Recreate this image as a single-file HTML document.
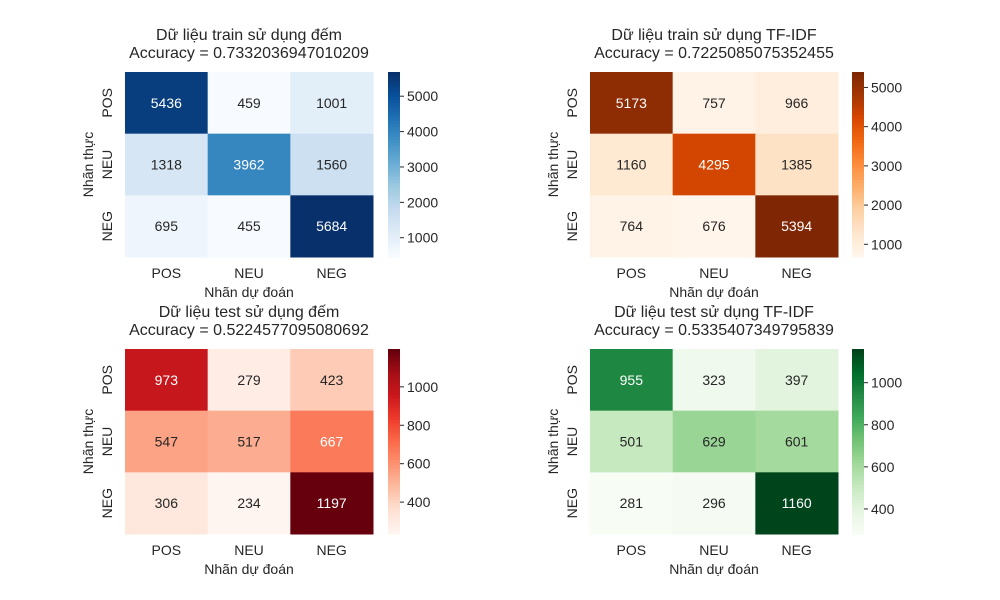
<!DOCTYPE html>
<html><head><meta charset="utf-8">
<style>
body{margin:0;background:#fff;}
svg{display:block;font-family:"Liberation Sans","DejaVu Sans",sans-serif;}
</style></head>
<body>
<svg id="fig" width="1000" height="600" viewBox="0 0 1000 600" xmlns="http://www.w3.org/2000/svg"></svg>
<script>
const categories = ["POS","NEU","NEG"];
const trainCountValues = [[5436,459,1001],[1318,3962,1560],[695,455,5684]];
const trainTfidfValues = [[5173,757,966],[1160,4295,1385],[764,676,5394]];
const testCountValues = [[973,279,423],[547,517,667],[306,234,1197]];
const testTfidfValues = [[955,323,397],[501,629,601],[281,296,1160]];
const trainCountTicks = [1000,2000,3000,4000,5000];
const trainTfidfTicks = [1000,2000,3000,4000,5000];
const testCountTicks = [400,600,800,1000];
const testTfidfTicks = [400,600,800,1000];
const titles = [
 ["Dữ liệu train sử dụng đếm","Accuracy = 0.7332036947010209"],
 ["Dữ liệu train sử dụng TF-IDF","Accuracy = 0.7225085075352455"],
 ["Dữ liệu test sử dụng đếm","Accuracy = 0.5224577095080692"],
 ["Dữ liệu test sử dụng TF-IDF","Accuracy = 0.5335407349795839"]
];

const CMAPS = {
 Blues:["#f7fbff","#deebf7","#c6dbef","#9ecae1","#6baed6","#4292c6","#2171b5","#08519c","#08306b"],
 Oranges:["#fff5eb","#fee6ce","#fdd0a2","#fdae6b","#fd8d3c","#f16913","#d94801","#a63603","#7f2704"],
 Reds:["#fff5f0","#fee0d2","#fcbba1","#fc9272","#fb6a4a","#ef3b2c","#cb181d","#a50f15","#67000d"],
 Greens:["#f7fcf5","#e5f5e0","#c7e9c0","#a1d99b","#74c476","#41ab5d","#238b45","#006d2c","#00441b"]
};
function hex(h){return [1,3,5].map(i=>parseInt(h.substr(i,2),16));}
function cmap(name,t){
 const s=CMAPS[name];t=Math.max(0,Math.min(1,t));
 const p=t*(s.length-1),i=Math.min(Math.floor(p),s.length-2),f=p-i;
 const a=hex(s[i]),b=hex(s[i+1]);
 return a.map((v,k)=>Math.round(v+(b[k]-v)*f));
}
function relLum(rgb){
 const c=rgb.map(v=>{v/=255;return v<=0.03928?v/12.92:Math.pow((v+0.055)/1.055,2.4);});
 return 0.2126*c[0]+0.7152*c[1]+0.0722*c[2];
}
const NS="http://www.w3.org/2000/svg";
const svg=document.getElementById('fig');
function el(tag,attrs,parent,text){
 const e=document.createElementNS(NS,tag);
 for(const k in attrs)e.setAttribute(k,attrs[k]);
 if(text!==undefined)e.textContent=text;
 (parent||svg).appendChild(e);return e;
}
function heatmap(name,values,ticks,cm,x0,y0,cbx,ttl){
 const W=248,H=185,cw=W/3,ch=H/3;
 const g=el('g',{});
 
 
 const flat=values.flat(),vmin=Math.min(...flat),vmax=Math.max(...flat);
 const xs=i=>x0+i*cw, ys=j=>y0+j*ch;
 values.forEach((row,r)=>row.forEach((v,c)=>{
  const t=(v-vmin)/(vmax-vmin),rgb=cmap(cm,t);
  const rect=el('rect',{x:xs(c),y:ys(r),width:cw+0.5,height:ch+0.5,fill:`rgb(${rgb})`},g);
  
  
  const lum=relLum(rgb);
  const tx=el('text',{x:xs(c)+cw/2,y:ys(r)+ch/2+5,'text-anchor':'middle','font-size':14,fill:lum<0.408?'#fff':'#262626'},g,String(v));
  
  
 }));
 categories.forEach((c,i)=>{
  const t=el('text',{x:xs(i)+cw/2,y:y0+H+21,'text-anchor':'middle','font-size':14,fill:'#262626'},g,c);
  
  
  const yy=ys(i)+ch/2;
  const t2=el('text',{x:0,y:0,'text-anchor':'middle','font-size':14,fill:'#262626',transform:`translate(${x0-13},${yy}) rotate(-90)`},g,c);
  
  
 });
 const xl=el('text',{x:x0+W/2,y:y0+H+40,'text-anchor':'middle','font-size':14,fill:'#262626'},g,'Nhãn dự đoán');
 
 
 const yl=el('text',{x:0,y:0,'text-anchor':'middle','font-size':14,fill:'#262626',transform:`translate(${x0-32},${y0+H/2}) rotate(-90)`},g,'Nhãn thực');
 
 
 ttl.forEach((s,i)=>{
  const t=el('text',{x:x0+W/2,y:y0-32+i*18,'text-anchor':'middle','font-size':16,fill:'#262626'},g,s);
  
  
 });
 const cb=el('g',{},g);
 
 
 const cbw=12,N=60;
 for(let k=0;k<N;k++){
  const rgb=cmap(cm,1-k/(N-1));
  el('rect',{x:cbx,y:y0+k*H/N,width:cbw,height:H/N+0.6,fill:`rgb(${rgb})`},cb);
 }
 const yv=v=>y0+H-(v-vmin)/(vmax-vmin)*H;
 ticks.forEach(v=>{
  el('line',{x1:cbx+cbw,x2:cbx+cbw+4,y1:yv(v),y2:yv(v),stroke:'#262626','stroke-width':1},cb);
  const t=el('text',{x:cbx+cbw+7,y:yv(v)+5,'font-size':14,fill:'#262626'},cb,String(v));
  
  
 });
}
heatmap('heatmap-train-count',trainCountValues,trainCountTicks,'Blues',125,72,388,titles[0]);
heatmap('heatmap-train-tfidf',trainTfidfValues,trainTfidfTicks,'Oranges',590,72,852,titles[1]);
heatmap('heatmap-test-count',testCountValues,testCountTicks,'Reds',125,349,388,titles[2]);
heatmap('heatmap-test-tfidf',testTfidfValues,testTfidfTicks,'Greens',590,349,852,titles[3]);
</script>
</body></html>
